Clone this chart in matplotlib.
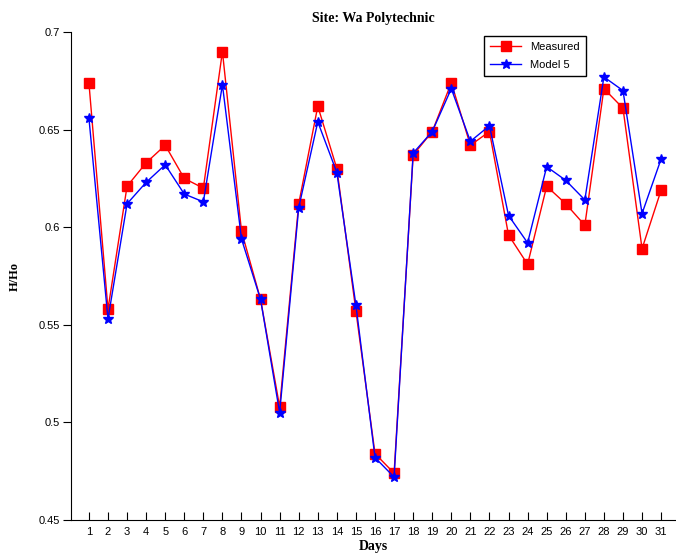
import matplotlib
matplotlib.use("Agg")
import matplotlib.pyplot as plt
import numpy as np

days = np.arange(1, 32)
measured = [0.674, 0.558, 0.621, 0.633, 0.642, 0.625, 0.620, 0.690, 0.598, 0.563,
            0.508, 0.612, 0.662, 0.630, 0.557, 0.484, 0.474, 0.637, 0.649, 0.674,
            0.642, 0.649, 0.596, 0.581, 0.621, 0.612, 0.601, 0.671, 0.661, 0.589,
            0.619]
model5 = [0.656, 0.553, 0.612, 0.623, 0.632, 0.617, 0.613, 0.673, 0.594, 0.563,
          0.505, 0.610, 0.654, 0.628, 0.560, 0.482, 0.472, 0.638, 0.649, 0.671,
          0.644, 0.652, 0.606, 0.592, 0.631, 0.624, 0.614, 0.677, 0.670, 0.607,
          0.635]
yticks = [0.45, 0.5, 0.55, 0.6, 0.65, 0.7]
ytick_labels = ["0.45", "0.5", "0.55", "0.6", "0.65", "0.7"]

fig = plt.figure(figsize=(6.76, 5.56), dpi=100)
ax = fig.add_axes([0.105, 0.0647, 0.895, 0.8777])

ax.plot(days, measured, color="red", marker="s", markersize=6.5, linewidth=1,
        label="Measured")
ax.plot(days, model5, color="blue", marker="*", markersize=7.5, linewidth=1,
        label="Model 5")

ax.set_xlim(0.06, 31.78)
ax.set_ylim(0.45, 0.7)
ax.set_xticks(days)
ax.set_xticklabels([str(d) for d in days], fontsize=8, family="Liberation Sans")
ax.set_yticks(yticks)
ax.set_yticklabels(ytick_labels, fontsize=8, family="Liberation Sans")
ax.tick_params(axis="x", direction="in", length=6, pad=5)
ax.tick_params(axis="y", direction="out", length=6, pad=2)

ax.spines["top"].set_visible(False)
ax.spines["right"].set_visible(False)

ax.set_title("Site: Wa Polytechnic", fontsize=10, fontweight="bold",
             family="Liberation Serif", pad=7)
ax.set_xlabel("Days", fontsize=10, fontweight="bold", family="Liberation Serif",
              labelpad=2)
ax.set_ylabel("H/Ho", fontsize=9, fontweight="bold", family="Liberation Serif",
              labelpad=13)

leg = ax.legend(loc="upper left", bbox_to_anchor=(0.683, 0.992),
                prop={"family": "Liberation Sans", "size": 8},
                fancybox=False, edgecolor="black", framealpha=1,
                borderaxespad=0, handlelength=2.8, labelspacing=0.75,
                borderpad=0.55)
leg.get_frame().set_linewidth(1)

fig.savefig("out.png", dpi=100)
